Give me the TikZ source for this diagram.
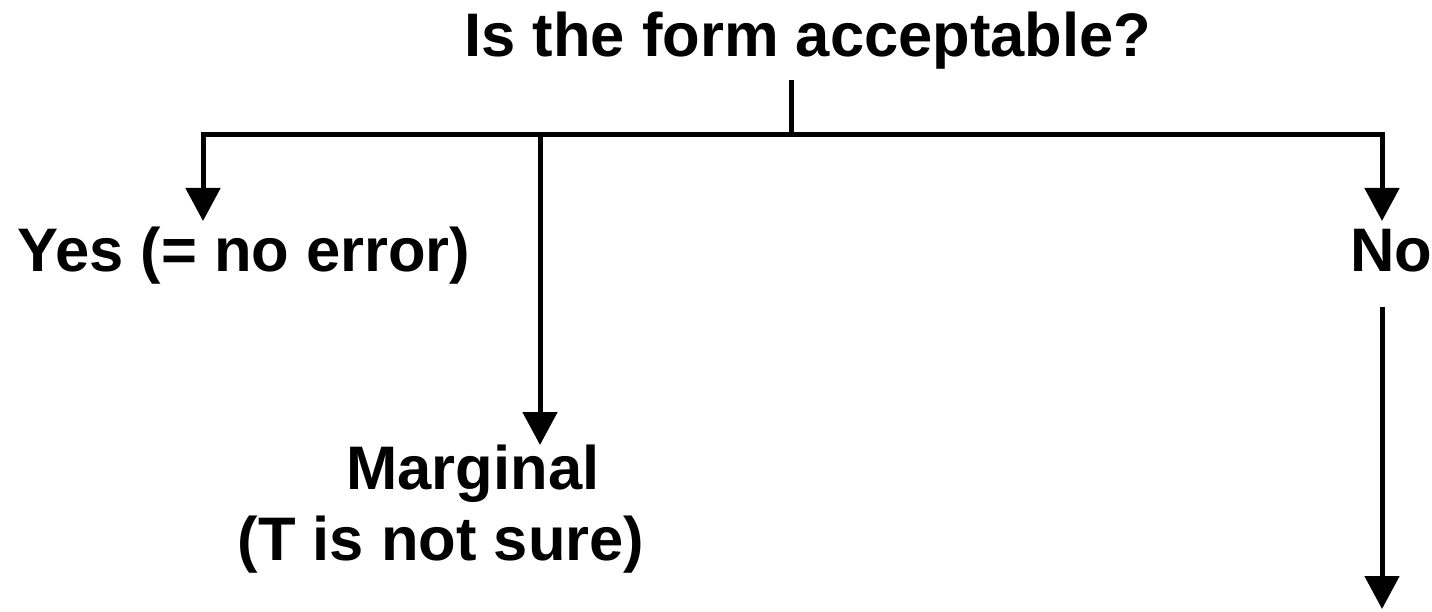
\documentclass[tikz,border=0pt]{standalone}
\usepackage{fontspec}
\setmainfont{Liberation Sans}
\usetikzlibrary{arrows.meta}
\begin{document}
\begin{tikzpicture}[x=1pt,y=-1pt,
  lbl/.style={font=\bfseries\fontsize{61.5}{68}\selectfont, inner sep=0pt, anchor=base},
  conn/.style={line width=5pt},
  arr/.style={line width=5pt, line join=miter, -{Triangle[width=34pt,length=33pt]}}]
\useasboundingbox (0,0) rectangle (1432,612);
\node[lbl] (title) at (808,57) {Is the form acceptable?};
\node[lbl] (yes) at (244,272) {Yes (= no error)};
\node[lbl] (no) at (1391,272) {No};
\node[lbl] (marg) at (473,489) {Marginal};
\node[lbl] (margb) at (441,560) {(T is not sure)};
\coordinate (top) at (791,80);
\coordinate (j) at (791,135);
\coordinate (jm) at (540,135);
\coordinate (tl) at (203,221);
\coordinate (tm) at (540,445);
\coordinate (tr) at (1382,221);
\coordinate (ns) at (1382,307);
\coordinate (tb) at (1382,609);
\draw[conn] (top) -- (j);
\draw[arr] (j) -| (tl);
\draw[arr] (j) -| (tr);
\draw[arr] (jm) -- (tm);
\draw[arr] (ns) -- (tb);
\end{tikzpicture}
\end{document}
